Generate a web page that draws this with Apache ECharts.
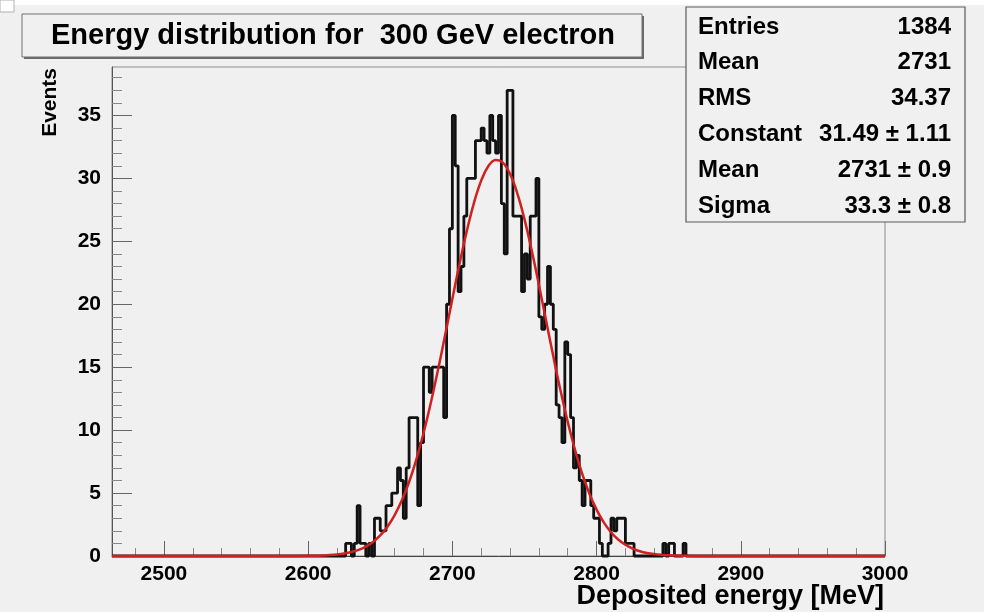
<!DOCTYPE html>
<html><head><meta charset="utf-8">
<script src="https://cdn.jsdelivr.net/npm/echarts@6/dist/echarts.min.js"></script>
<style>html,body{margin:0;padding:0;background:#f0f0f0}#c{width:984px;height:612px}</style>
</head><body><div id="c"></div>
<script>
// ---- data ----
const binStart = 2620;          // left edge of first listed bin (MeV)
const binWidth = 2;             // MeV
const counts = [
  0,0,0,1,1,0,1,4,1,1,
  0,1,0,3,3,2,2,4,4,5,
  5,7,6,3,7,11,11,11,4,9,
  15,15,13,15,15,15,15,11,20,26,
  35,31,21,23,27,30,30,30,33,33,
  34,33,32,35,33,32,35,28,24,37,
  37,27,27,27,21,24,22,27,27,30,
  19,18,20,23,20,18,12,11,9,17,
  16,11,7,8,6,4,6,6,4,3,
  3,1,0,0,1,3,2,3,3,3,
  1,1,1,0,0,0,0,0,0,0,
  0,0,0,1,0,1,1,0,0,0,
  1,0,0,0,0
];
const fitEnergy = [2464,2580,2600,2605,2610,2615,2620,2625,2630,2635,2640,2645,2650,2655,2660,2665,2670,2675,2680,2685,2690,2695,2700,2705,2710,2715,2720,2725,2730,2735,2740,2745,2750,2755,2760,2765,2770,2775,2780,2785,2790,2795,2800,2805,2810,2815,2820,2825,2830,2835,2840,2845,2850,2860,2880,3000];
const fitValue  = [0,0,0.01,0.02,0.04,0.07,0.12,0.2,0.32,0.49,0.75,1.12,1.63,2.33,3.25,4.42,5.88,7.66,9.75,12.13,14.76,17.55,20.42,23.22,25.81,28.06,29.82,30.98,31.46,31.26,30.36,28.83,26.76,24.29,21.55,18.7,15.86,13.15,10.67,8.45,6.55,4.97,3.68,2.67,1.89,1.31,0.89,0.59,0.38,0.24,0.15,0.09,0.05,0.02,0,0];
const xMajorTicks = [2500,2600,2700,2800,2900,3000];
const xMinorTicks = [2480,2520,2540,2560,2580,2620,2640,2660,2680,2720,2740,2760,2780,2820,2840,2860,2880,2920,2940,2960,2980];
const yMajorTicks = [0,5,10,15,20,25,30,35];
const yMinorTicks = [1,2,3,4,6,7,8,9,11,12,13,14,16,17,18,19,21,22,23,24,26,27,28,29,31,32,33,34,36,37,38];
const titleText = 'Energy distribution for  300 GeV electron';
const xTitle = 'Deposited energy [MeV]';
const yTitle = 'Events';
const statNames  = ['Entries','Mean','RMS','Constant','Mean','Sigma'];
const statValues = ['1384','2731','34.37','31.49 \u00b1 1.11','2731 \u00b1 0.9','33.3 \u00b1 0.8'];
const xMin = 2464, xMax = 3000, yMax = 38.85;

// ---- build ----
const histPts = [[xMin, 0]];
counts.forEach((c, i) => histPts.push([binStart + i * binWidth, c]));
histPts.push([binStart + counts.length * binWidth, 0]);
histPts.push([xMax, 0]);
const fitPts = fitEnergy.map((e, i) => [e, fitValue[i]]);

const FONT = '"Liberation Sans", Arial, sans-serif';
const chart = echarts.init(document.getElementById('c'), null, {renderer: 'canvas'});
const plain = v => String(v);

const statsGraphics = [];
const boxX = 686, boxY = 7, boxW = 279, boxH = 215;
statsGraphics.push({type: 'rect', shape: {x: boxX, y: boxY, width: boxW, height: boxH},
  style: {fill: '#f0f0f0', stroke: '#5a5a5a', lineWidth: 1.2}, z: 100});
statNames.forEach((n, i) => {
  const yy = 27 + i * 35.8;
  statsGraphics.push({type: 'text', x: 698, y: yy, z: 101,
    style: {text: n, font: 'bold 24px ' + FONT, fill: '#000', textAlign: 'left', textVerticalAlign: 'middle'}});
  statsGraphics.push({type: 'text', x: 951, y: yy, z: 101,
    style: {text: statValues[i], font: 'bold 24px ' + FONT, fill: '#000', textAlign: 'right', textVerticalAlign: 'middle'}});
});

const option = {
  animation: false,
  backgroundColor: '#f0f0f0',
  grid: {left: 112, top: 67, width: 773, height: 489, show: true, borderColor: '#8c8c8c', borderWidth: 1, backgroundColor: 'transparent', containLabel: false},
  xAxis: [
    {type: 'value', min: xMin, max: xMax, position: 'bottom',
     axisLine: {show: true, onZero: false, lineStyle: {color: '#444', width: 1}},
     axisTick: {show: true, inside: true, length: 15, customValues: xMajorTicks, lineStyle: {color: '#666'}},
     axisLabel: {show: true, customValues: xMajorTicks, formatter: plain, fontSize: 21, fontWeight: 'bold', color: '#000', fontFamily: FONT, margin: 8},
     splitLine: {show: false}},
    {type: 'value', min: xMin, max: xMax, position: 'bottom',
     axisLine: {show: false, onZero: false},
     axisTick: {show: true, inside: true, length: 8, customValues: xMinorTicks, lineStyle: {color: '#888'}},
     axisLabel: {show: false},
     splitLine: {show: false}}
  ],
  yAxis: [
    {type: 'value', min: 0, max: yMax, position: 'left',
     axisLine: {show: true, onZero: false, lineStyle: {color: '#555', width: 1}},
     axisTick: {show: true, inside: true, length: 20, customValues: yMajorTicks, lineStyle: {color: '#666'}},
     axisLabel: {show: true, customValues: yMajorTicks, formatter: plain, fontSize: 21, fontWeight: 'bold', color: '#000', fontFamily: FONT, margin: 11},
     splitLine: {show: false}},
    {type: 'value', min: 0, max: yMax, position: 'left',
     axisLine: {show: false, onZero: false},
     axisTick: {show: true, inside: true, length: 10, customValues: yMinorTicks, lineStyle: {color: '#888'}},
     axisLabel: {show: false},
     splitLine: {show: false}}
  ],
  series: [
    {type: 'line', name: 'hist', xAxisIndex: 0, yAxisIndex: 0, step: 'end', data: histPts,
     showSymbol: false, symbol: 'none', clip: false,
     lineStyle: {color: '#111', width: 2.8}, z: 3},
    {type: 'line', name: 'fit', xAxisIndex: 0, yAxisIndex: 0, smooth: 0.4, data: fitPts,
     showSymbol: false, symbol: 'none', clip: false,
     lineStyle: {color: '#d02020', width: 2.5}, z: 4}
  ],
  graphic: [
    {type: 'rect', shape: {x: 0, y: 0, width: 984, height: 5}, style: {fill: '#ffffff'}, z: 90},
    {type: 'rect', shape: {x: 0, y: 0, width: 14, height: 12}, style: {fill: '#ffffff', stroke: '#b0b0b0', lineWidth: 1}, z: 91},
    {type: 'rect', shape: {x: 24, y: 16, width: 620, height: 43}, style: {fill: '#6a6a6a'}, z: 98},
    {type: 'rect', shape: {x: 22, y: 14, width: 620, height: 43}, style: {fill: '#f0f0f0', stroke: '#707070', lineWidth: 1}, z: 99},
    {type: 'text', x: 333, y: 36, z: 100,
     style: {text: titleText, font: 'bold 29px ' + FONT, fill: '#000', textAlign: 'center', textVerticalAlign: 'middle'}},
    {type: 'text', x: 884, y: 597, z: 100,
     style: {text: xTitle, font: 'bold 27px ' + FONT, fill: '#000', textAlign: 'right', textVerticalAlign: 'middle'}},
    {type: 'text', x: 50, y: 68, rotation: Math.PI / 2, z: 100,
     style: {text: yTitle, font: 'bold 21px ' + FONT, fill: '#000', textAlign: 'right', textVerticalAlign: 'middle'}}
  ].concat(statsGraphics)
};
chart.setOption(option);
</script></body></html>
